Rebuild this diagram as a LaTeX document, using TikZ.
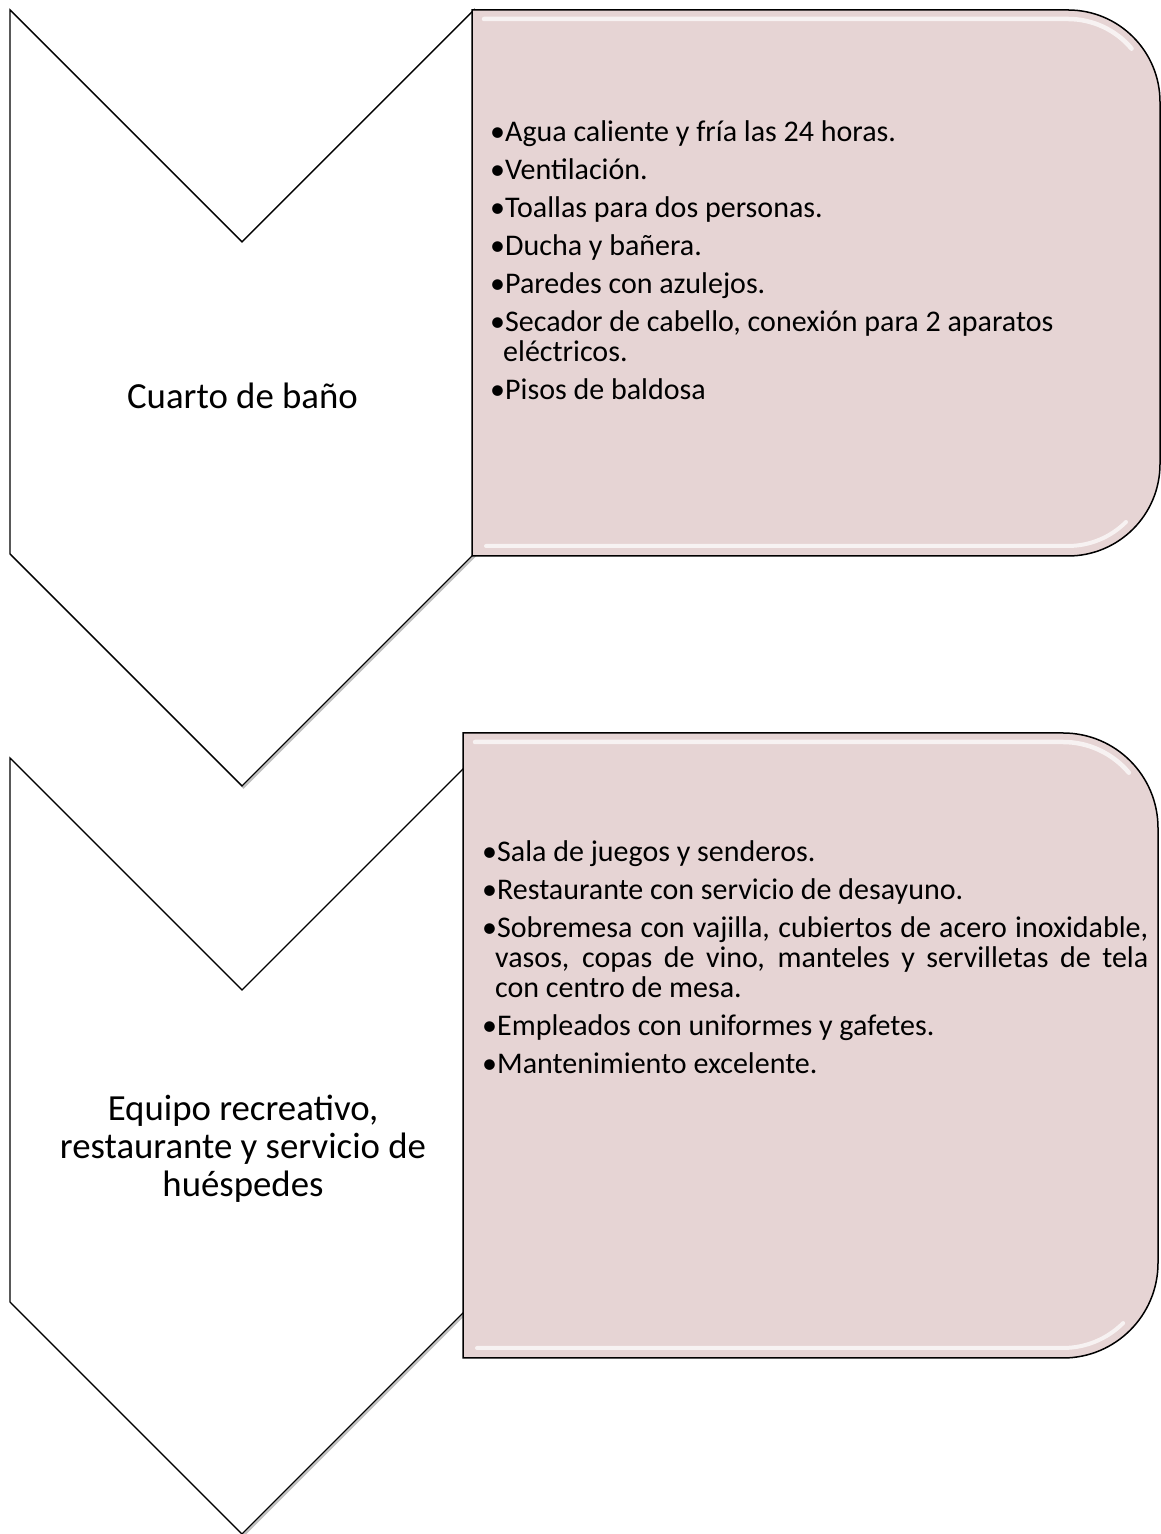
\documentclass[tikz,border=0pt]{standalone}
\usepackage{fontspec}
\setmainfont{Carlito}
\definecolor{boxfill}{RGB}{230,212,212}
\tikzset{
  chev/.style={draw=black, line width=1.4pt, fill=white, line join=miter},
  chevshadow/.style={draw=black, opacity=0.25, line width=2pt, line join=miter},
  pinkbox/.style={draw=black, line width=1.5pt, fill=boxfill},
  gloss/.style={white, opacity=0.7, line cap=round},
  label/.style={inner sep=0pt, font=\fontsize{36.8}{38}\selectfont, text width=440pt, align=justify},
  items/.style={inner sep=0pt, anchor=base west, align=justify, font=\fontsize{30}{30}\selectfont}
}
\newcommand{\itm}[1]{\hangindent=13pt\hangafter=1 •#1\par}
\begin{document}
\begin{tikzpicture}[x=1pt,y=1pt]
\useasboundingbox (0,0) rectangle (1161,1534);
% chevrons (with faint shadow)
\draw[chevshadow, shift={(1.5,-1.5)}] (10,1524) -- (242,1292) -- (474,1524) -- (474,980) -- (242,748) -- (10,980) -- cycle;
\draw[chev] (10,1524) -- (242,1292) -- (474,1524) -- (474,980) -- (242,748) -- (10,980) -- cycle;
\draw[chevshadow, shift={(1.5,-1.5)}] (10,776) -- (242,544) -- (474,776) -- (474,232) -- (242,0) -- (10,232) -- cycle;
\draw[chev] (10,776) -- (242,544) -- (474,776) -- (474,232) -- (242,0) -- (10,232) -- cycle;
% box 1
\def\L{472}\def\R{1160}\def\T{1524}\def\B{978}\def\r{92}
\draw[pinkbox] (\L,\T) -- ({\R-\r},\T) arc[start angle=90,end angle=0,radius=\r] -- (\R,{\B+\r}) arc[start angle=0,end angle=-90,radius=\r] -- (\L,\B) -- cycle;
\draw[gloss, line width=4.5pt] ({\L+12},{\T-9}) -- ({\R-\r},{\T-9}) arc[start angle=90,end angle=40,radius={\r-9}];
\draw[gloss, line width=4pt] ({\L+14},{\B+10}) -- ({\R-\r},{\B+10}) arc[start angle=270,end angle=315,radius={\r-10}];
% box 2
\def\L{463}\def\R{1158}\def\T{801}\def\B{176}\def\r{95}
\draw[pinkbox] (\L,\T) -- ({\R-\r},\T) arc[start angle=90,end angle=0,radius=\r] -- (\R,{\B+\r}) arc[start angle=0,end angle=-90,radius=\r] -- (\L,\B) -- cycle;
\draw[gloss, line width=4.5pt] ({\L+12},{\T-9}) -- ({\R-\r},{\T-9}) arc[start angle=90,end angle=40,radius={\r-9}];
\draw[gloss, line width=4pt] ({\L+14},{\B+10}) -- ({\R-\r},{\B+10}) arc[start angle=270,end angle=315,radius={\r-10}];
% labels
\node[label, anchor=base] (l1) at (242.5,1125) {\centering Cuarto de baño\par};
\node[label, anchor=base] (l2) at (243,413) {\centering Equipo recreativo,\\ restaurante y servicio de\\ huéspedes\par};
% items box 1
\node[items, text width=650pt] (t1) at (490,1392) {\setlength{\parskip}{8pt}%
\itm{Agua caliente y fría las 24 horas.}
\itm{Ventilación.}
\itm{Toallas para dos personas.}
\itm{Ducha y bañera.}
\itm{Paredes con azulejos.}
\itm{Secador de cabello, conexión para 2 aparatos\newline eléctricos.}
\itm{Pisos de baldosa}};
% items box 2
\node[items, text width=666pt] (t2) at (482,672) {\setlength{\parskip}{8pt}%
\itm{Sala de juegos y senderos.}
\itm{Restaurante con servicio de desayuno.}
\itm{Sobremesa con vajilla, cubiertos de acero inoxidable,\linebreak vasos, copas de vino, manteles y servilletas de tela\linebreak con centro de mesa.}
\itm{Empleados con uniformes y gafetes.}
\itm{Mantenimiento excelente.}};
\end{tikzpicture}
\end{document}
